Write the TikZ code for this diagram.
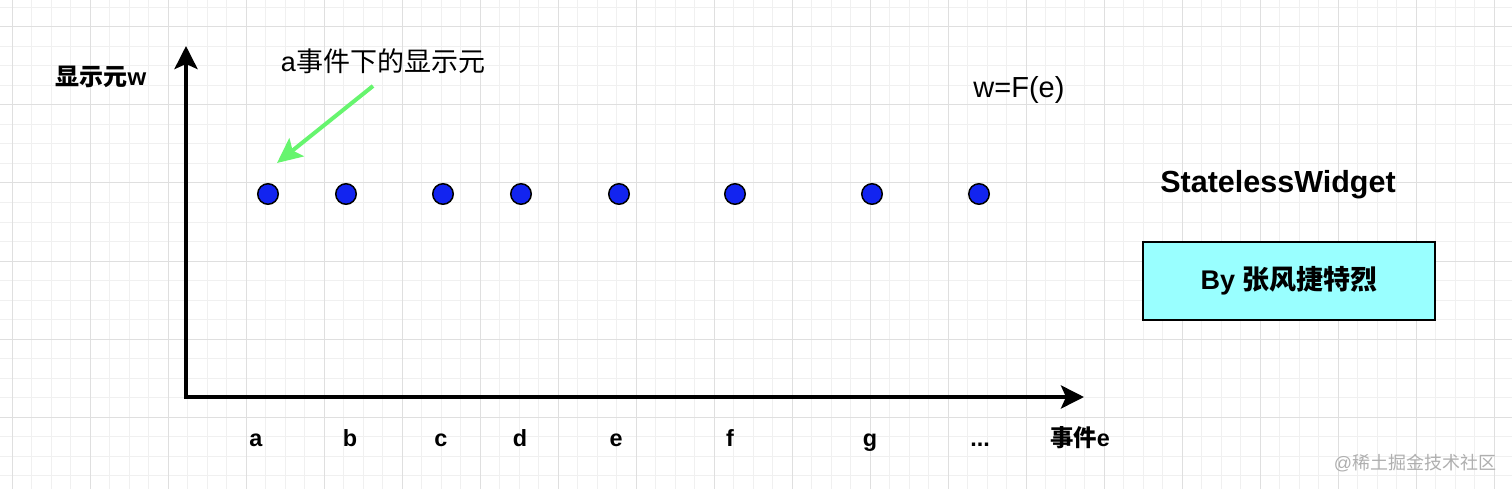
\documentclass[tikz,border=0pt]{standalone}
\usepackage{fontspec}
\setmainfont{Liberation Sans}
\newfontfamily\cjk{Noto Sans CJK SC}
\usetikzlibrary{arrows.meta}
\definecolor{gridmajor}{RGB}{223,223,223}
\definecolor{gridminor}{RGB}{240,240,240}
\definecolor{dotblue}{RGB}{18,36,240}
\definecolor{arrowgreen}{RGB}{102,245,110}
\definecolor{boxcyan}{RGB}{153,255,255}
\definecolor{wmgray}{RGB}{175,175,175}
\begin{document}
\begin{tikzpicture}[x=1pt,y=-1pt,
  minorline/.style={draw=gridminor,line width=1pt},
  majorline/.style={draw=gridmajor,line width=1pt},
  axis/.style={line width=4pt,black,-{Stealth[length=23pt,width=23pt,inset=5pt]}},
  pointer/.style={line width=4pt,arrowgreen,-{Stealth[length=25pt,width=23pt,inset=5pt]}},
  dotnode/.style={circle,draw=black,line width=1.5pt,fill=dotblue,minimum size=20.5pt,inner sep=0pt},
  ticklabel/.style={font=\fontsize{23.4}{28}\selectfont\bfseries,anchor=base,inner sep=0pt},
  plaintext/.style={font=\fontsize{27}{32}\selectfont,inner sep=0pt},
  formulatext/.style={font=\fontsize{29}{34}\selectfont,inner sep=0pt},
  boldtext/.style={font=\fontsize{24}{28}\selectfont\bfseries,inner sep=0pt},
  titletext/.style={font=\fontsize{30.5}{36}\selectfont\bfseries,inner sep=0pt},
  authorbox/.style={draw=black,line width=1.5pt,fill=boxcyan,minimum width=292pt,minimum height=78pt,font=\fontsize{27}{32}\selectfont\bfseries},
  watermark/.style={font=\fontsize{18}{22}\selectfont,text=wmgray,inner sep=0pt}
]
\useasboundingbox (0,0) rectangle (1512,489);
\fill[white] (0,0) rectangle (1512,489);
\begin{scope}
\clip (0,0) rectangle (1512,489);
\foreach \i in {0,...,80} {
  \pgfmathsetmacro\xx{12+19.5*(\i-1)}
  \draw[minorline] (\xx,0) -- (\xx,489);
}
\foreach \i in {0,...,26} {
  \pgfmathsetmacro\yy{27+19.5*(\i-1)}
  \draw[minorline] (0,\yy) -- (1512,\yy);
}
\foreach \i in {0,...,19} {
  \pgfmathsetmacro\xx{12+78*\i}
  \draw[majorline] (\xx,0) -- (\xx,489);
}
\foreach \i in {0,...,5} {
  \pgfmathsetmacro\yy{27+78*\i}
  \draw[majorline] (0,\yy) -- (1512,\yy);
}
\end{scope}

% axes
\coordinate (O) at (186,397);
\coordinate (ytip) at (186,46);
\coordinate (xtip) at (1084,397);
\draw[axis] ([yshift=2pt]O) -- (ytip);
\draw[axis] ([xshift=-2pt]O) -- (xtip);

% labels
\node[boldtext] (ylabel) at (101,77) {{\cjk\bfseries 显示元}w};
\node[plaintext] (anote) at (383,61) {a{\cjk 事件下的显示元}};
\node[formulatext] (formula) at (1019,90) {w=F(e)};
\node[titletext] (title) at (1278,185) {StatelessWidget};
\node[authorbox] (author) at (1289,281) {By {\cjk\bfseries 张风捷特烈}};

% dots
\node[dotnode] (da) at (268,194) {};
\node[dotnode] (db) at (346,194) {};
\node[dotnode] (dc) at (443,194) {};
\node[dotnode] (dd) at (521,194) {};
\node[dotnode] (de) at (619,194) {};
\node[dotnode] (df) at (735,194) {};
\node[dotnode] (dg) at (872,194) {};
\node[dotnode] (dh) at (979,194) {};

% green pointer
\coordinate (gstart) at (373,86);
\coordinate (gtip) at (277,163);
\draw[pointer] (gstart) -- (gtip);

% tick labels
\node[ticklabel] (la) at (256,446) {a};
\node[ticklabel] (lb) at (350,446) {b};
\node[ticklabel] (lc) at (441,446) {c};
\node[ticklabel] (ld) at (520,446) {d};
\node[ticklabel] (le) at (616,446) {e};
\node[ticklabel] (lf) at (730,446) {f};
\node[ticklabel] (lg) at (870,446) {g};
\node[ticklabel] (lh) at (980,446) {...};
\node[ticklabel] (lx) at (1080,446) {{\cjk\bfseries 事件}e};

\node[watermark] (wm) at (1415,463) {@{\cjk 稀土掘金技术社区}};
\end{tikzpicture}
\end{document}
